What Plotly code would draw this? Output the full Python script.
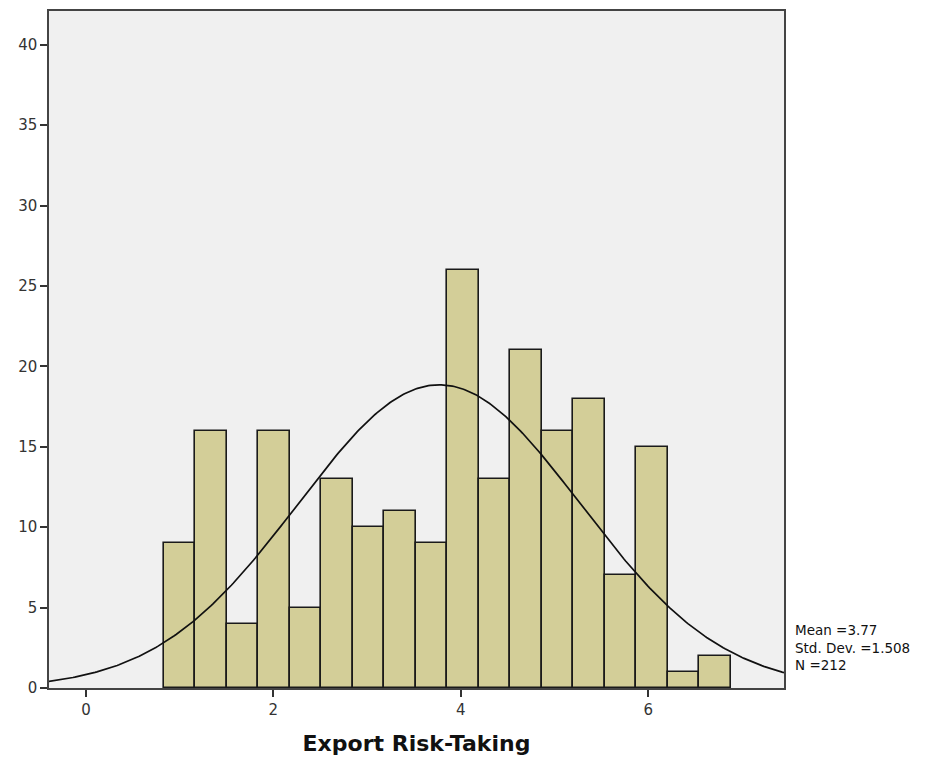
import numpy as np
import plotly.graph_objects as go

# Histogram data
bin_start = 0.832
bin_width = 0.3362
counts = [9, 16, 4, 16, 5, 13, 10, 11, 9, 26, 13, 21, 16, 18, 7, 15, 1, 2]

# Summary statistics shown on chart
mean = 3.77
std_dev = 1.508
n = 212

x_ticks = [0, 2, 4, 6]
y_ticks = [0, 5, 10, 15, 20, 25, 30, 35, 40]

stats_lines = [f"Mean ={mean:.2f}", f"Std. Dev. ={std_dev:.3f}", f"N ={n}"]

centers = [bin_start + bin_width * (i + 0.5) for i in range(len(counts))]

x_range = [-0.395, 7.45]
y_range = [0, 42.1]

xc = np.linspace(x_range[0], x_range[1], 400)
yc = n * bin_width * np.exp(-0.5 * ((xc - mean) / std_dev) ** 2) / (std_dev * np.sqrt(2 * np.pi))

fig = go.Figure()
fig.add_trace(go.Bar(
    x=centers, y=counts, width=bin_width,
    marker=dict(color="#D3CE98", line=dict(color="#1a1a1a", width=1.6)),
    hoverinfo="x+y",
))
fig.add_trace(go.Scatter(
    x=xc, y=yc, mode="lines",
    line=dict(color="#111111", width=1.7),
    hoverinfo="skip",
))

tick_font = dict(family="DejaVu Sans, Verdana, sans-serif", size=15, color="#333333")

fig.update_layout(
    width=942, height=761,
    margin=dict(l=49, r=158, t=9, b=72),
    paper_bgcolor="white",
    plot_bgcolor="#F0F0F0",
    showlegend=False,
    bargap=0,
    xaxis=dict(
        range=x_range, tickvals=x_ticks, ticktext=[str(v) for v in x_ticks],
        tickfont=tick_font,
        ticks="outside", ticklen=7, tickwidth=2, tickcolor="#333333",
        showgrid=False, zeroline=False,
        showline=True, linecolor="#444444", linewidth=1.5, mirror=True,
        title=dict(text="<b>Export Risk-Taking</b>",
                   font=dict(family="DejaVu Sans, Verdana, sans-serif", size=22, color="#111111"),
                   standoff=18),
    ),
    yaxis=dict(
        range=y_range, tickvals=y_ticks, ticktext=[str(v) for v in y_ticks],
        tickfont=tick_font,
        ticks="outside", ticklen=7, tickwidth=2, tickcolor="#333333",
        showgrid=False, zeroline=False,
        showline=True, linecolor="#444444", linewidth=1.5, mirror=True,
    ),
)

plot_top, plot_bottom = 9, 689
fig.add_annotation(
    x=1, xref="paper", xanchor="left", xshift=9,
    y=(plot_bottom - 648.5) / (plot_bottom - plot_top), yref="paper", yanchor="middle",
    text="<br>".join(stats_lines), showarrow=False, align="left",
    font=dict(family="DejaVu Sans, Verdana, sans-serif", size=13.5, color="#111111"),
)

fig.write_html("out.html")
